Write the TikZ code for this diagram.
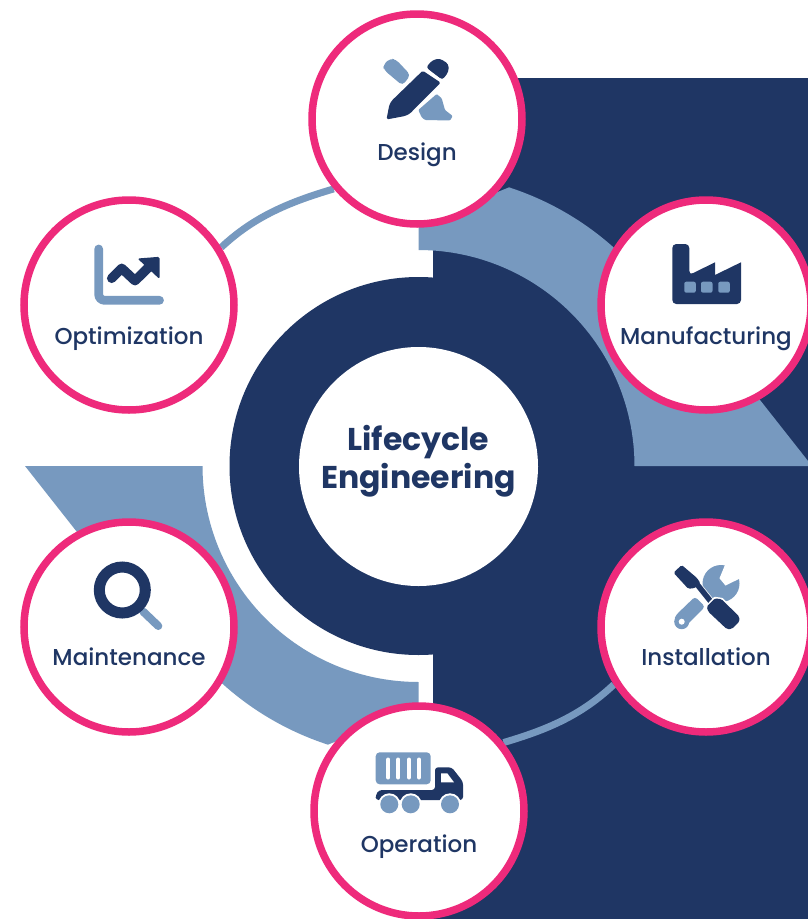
\documentclass[tikz,border=0pt]{standalone}
\usepackage{fontspec}
\setmainfont{Poppins}
\newfontfamily\lblfont{Poppins Medium}
\newfontfamily\ttlfont{Poppins Bold}
\usetikzlibrary{backgrounds}
\definecolor{navy}{HTML}{1F3664}
\definecolor{steel}{HTML}{7799BF}
\definecolor{hotpink}{HTML}{EE2A7B}
\tikzset{
  stage/.style={circle,draw=hotpink,fill=white,line width=7.5pt,minimum size=210pt,inner sep=0pt},
  hub/.style={circle,fill=white,minimum size=239pt,inner sep=0pt},
  ring/.style={circle,fill=navy,minimum size=378pt,inner sep=0pt},
  lbl/.style={text=navy,font=\lblfont\fontsize{23}{26}\selectfont,inner sep=0pt,anchor=center},
  ttl/.style={text=navy,font=\ttlfont\fontsize{31.5}{38}\selectfont,inner sep=0pt,align=center,anchor=center},
  linkarc/.style={draw=steel,line width=7pt},
  band/.style={fill=steel},
  ico/.style={fill=navy,rounded corners=1.5pt},
  icoL/.style={fill=steel,rounded corners=1pt}
}
\newcommand{\bandpath}{%
  \fill[band] (418.5,224)
    -- (418.5,250)
    -- plot[domain=-90:0,samples=60] ({418.5+216*cos(\x)},{466+216*sin(\x)})
    -- (812,466) -- (760,400) -- (700,330) -- (672,319)
    -- plot[domain=-30:-72,samples=60] ({418.5+293*cos(\x)},{466+293*sin(\x)})
    -- cycle;}
\begin{document}
\begin{tikzpicture}[x=1pt,y=-1pt]
\useasboundingbox (0,0) rectangle (808,919);
\clip (0,0) rectangle (808,919);
% ---- nodes
\node[ring] (ringc) at (418.5,466) {};
\node[hub] (hubc) at (418.5,466.5) {};
\node[stage] (des) at (417,119) {};
\node[stage] (opt) at (129,305) {};
\node[stage] (man) at (706,305) {};
\node[stage] (ins) at (706,627) {};
\node[stage] (ope) at (419,811) {};
\node[stage] (mai) at (129,627) {};
\node[ttl] (title) at (418.5,461) {Lifecycle\\Engineering};
\node[lbl] (tdes) at (417,155) {Design};
\node[lbl] (topt) at (129,339) {Optimization};
\node[lbl] (tman) at (706,339) {Manufacturing};
\node[lbl] (tins) at (706,657) {Installation};
\node[lbl] (tope) at (419,847) {Operation};
\node[lbl] (tmai) at (129,657) {Maintenance};
% ---- background shapes
\begin{pgfonlayer}{background}
\fill[white] (0,0) rectangle (808,919);
\fill[navy] (433,78) rectangle (808,919);
\bandpath
\begin{scope}[rotate around={180:(418.5,466)}]
\bandpath
\end{scope}
\draw[linkarc] (opt.32) .. controls +(33,-31) and +(-44,13) .. (des.220);
\draw[linkarc] (ins.212) .. controls +(-33,31) and +(44,-13) .. (ope.39);
\end{pgfonlayer}
% ---- Design icon
\fill[icoL,rounded corners=4pt] (383,65) -- (390,58.5) -- (396,59.5) -- (410.5,75) -- (402.5,85.5) -- (384,70) -- cycle;
\fill[ico] (386.5,119.5) -- (389.3,105) -- (391.7,100.7) -- (422.7,70.7) -- (440.7,82.7) -- (410,113.5) -- (405,116) -- cycle;
\fill[fill=navy,rounded corners=3pt] (426,67.3) -- (432.7,60) -- (440,58.5) -- (448.5,64) -- (448.5,72) -- (442.3,80) -- cycle;
\draw[white,line width=1.8pt] (423.5,67.8) -- (443,81.5);
\fill[icoL] (436.7,94) -- (418.3,110) -- (421.7,117.3) -- (425,120) -- (450,120.5) -- (452.7,116) -- (445,110) -- (441.7,98.3) -- cycle;
% ---- Optimization icon
\draw[steel,line width=8.8pt,line cap=round,rounded corners=6pt] (98.7,249) -- (98.7,300.3) -- (159.5,300.3);
\draw[navy,line width=9.5pt,line cap=round,line join=round] (111.7,278.3) -- (121.7,268.3) -- (135,280.7) -- (150,266);
\fill[ico] (137.5,258.5) -- (159.5,256.8) -- (159.5,279) -- cycle;
% ---- Manufacturing icon
\fill[fill=navy,rounded corners=4pt] (672.3,304) -- (672.3,244) -- (689.3,244) -- (689.3,275) [sharp corners] -- (715,262.3) -- (715,275) -- (741,262.3) [rounded corners=4pt] -- (741,304) -- cycle;
\foreach \wx in {684.3,701,718.3}
  \fill[steel,rounded corners=2pt] (\wx,281.7) rectangle ++(11.5,11);
% ---- Installation icon
\begin{scope}
\fill[steel] (721,583.5) circle[radius=18.5];
\fill[white] (727,560) -- (719.5,578.3) -- (725.5,585.5) -- (745,576) -- (745,560) -- cycle;
\fill[steel,rounded corners=3pt] (695,596.7) -- (705,606.7) -- (685,627) -- (674,620) -- (676,615) -- cycle;
\fill[steel] (681.7,621.7) circle[radius=7.5];
\fill[white] (681.7,621.7) circle[radius=3];
\draw[white,line width=7pt] (696,583) -- (712,603);
\draw[navy,line width=5.5pt] (696,583) -- (712,603);
\draw[white,line width=3pt,line join=round] (706.7,606.7) -- (715,598.3) -- (721.7,599.3) -- (739.3,616.7) -- (739.3,621.7) -- (731.7,629) -- (726.7,629) -- (708.3,611.7) -- cycle;
\fill[ico] (673.5,572.7) -- (681.7,565) -- (697,578) -- (700.5,583.3) -- (695,588) -- (688.3,588.8) -- cycle;
\fill[ico] (706.7,606.7) -- (715,598.3) -- (721.7,599.3) -- (739.3,616.7) -- (739.3,621.7) -- (731.7,629) -- (726.7,629) -- (708.3,611.7) -- cycle;
\end{scope}
% ---- Operation icon
\fill[steel,rounded corners=4pt] (375.7,752.3) rectangle (430.7,784.3);
\foreach \sx in {388.3,398.3,409,419}
  \draw[white,line width=4pt,line cap=round] (\sx,759.5) -- (\sx,777.5);
\fill[fill=navy,rounded corners=3pt] (375.7,800) -- (375.7,795) -- (379,790) -- (435,790) -- (435,767.3) -- (451.7,767.3) -- (463,781.7) -- (463,800) -- cycle;
\fill[white] (441,773.3) -- (447.3,773.3) -- (454,782.3) -- (441,782.3) -- cycle;
\foreach \wc in {389.3,410.7,450}{
  \fill[white] (\wc,804.3) circle[radius=11];
  \fill[steel] (\wc,804.3) circle[radius=9];}
% ---- Maintenance icon
\draw[steel,line width=8pt,line cap=round] (143.3,611.7) -- (158.3,626);
\draw[navy,line width=11pt] (122.3,590) circle[radius=23];
\end{tikzpicture}
\end{document}
